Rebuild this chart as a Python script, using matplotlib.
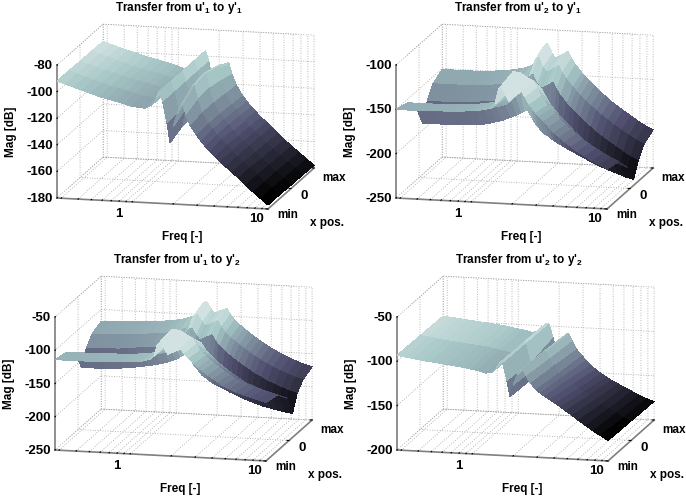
import numpy as np
import matplotlib
matplotlib.use('Agg')
import matplotlib.pyplot as plt
from mpl_toolkits.mplot3d import proj3d

plt.rcParams['font.family'] = ['Liberation Sans', 'DejaVu Sans']
plt.rcParams['font.weight'] = 'bold'
plt.rcParams['mathtext.fontset'] = 'custom'
plt.rcParams['mathtext.rm'] = 'Liberation Sans:bold'
plt.rcParams['mathtext.default'] = 'rm'

# frequency axis, shared by all panels
freq = [0.28, 0.323, 0.372, 0.43, 0.496, 0.573, 0.66, 0.762, 0.879, 0.98, 1.09, 1.256, 1.4, 1.5, 1.585,
        1.673, 1.8, 1.9, 2.0, 2.15, 2.27, 2.35, 2.48, 2.66, 2.96, 3.18, 3.42, 3.74, 4.09, 4.48, 4.89,
        5.45, 6.06, 6.87, 7.78, 8.82, 10]
freq_ticks = [0.3, 0.4, 0.5, 0.6, 0.7, 0.8, 0.9, 1, 2, 3, 4, 5, 6, 7, 8, 9, 10]

# u1 -> y1
pos_11 = [-1, -0.5, 0, 0.5, 1]
mag_11 = [
    [-92, -94, -96, -98, -100, -102, -103.5, -105, -106.5, -108, -108.5, -109, -106, -101, -95.5, -103, -119, -134, -122, -112, -106, -104, -112, -120, -127, -131, -135, -139, -143, -146.5, -150, -154, -158, -163, -168, -172.5, -177],
    [-92, -94, -96, -98, -100, -102, -103.5, -105, -106.5, -108, -108.5, -109.5, -106.5, -101.5, -96, -103, -118, -130, -117, -105, -99, -98, -108, -118, -126, -130, -134, -138, -142, -146, -150, -154, -158, -163, -168, -172.5, -177],
    [-92.5, -94.5, -96.5, -98.5, -100, -102, -103.5, -105, -106.5, -108, -109, -110, -107, -102, -96, -103, -118, -128, -114, -102, -97, -96, -107, -118, -126, -130, -134, -138.5, -143, -146.5, -150, -154.5, -159, -163.5, -168, -173, -177.5],
    [-92.5, -94.5, -96.5, -98.5, -100.5, -102.5, -104, -105.5, -107, -108.5, -109.5, -111, -108, -102.5, -96, -103, -118.5, -131, -118, -106, -100, -99, -109, -119, -127, -131, -135, -139, -143.5, -147, -150.5, -155, -159.5, -164, -168.5, -173, -177.5],
    [-93, -95, -97, -99, -100.5, -102.5, -104, -105.5, -107, -108.5, -110, -112, -109, -103, -96, -103, -119, -134, -122, -112, -106, -104, -112, -120, -128, -132, -136, -140, -144, -147.5, -151, -155.5, -160, -164.5, -169, -173.5, -178],
]

# u2 -> y1
pos_21 = [-1, -0.5, -0.1, 0.15, 0.35, 0.6, 1]
mag_21 = [
    [-150, -150, -150, -150, -149.5, -149, -149, -148.5, -148, -147, -146.5, -145, -143, -138, -122, -117, -128, -134, -131, -127, -124, -122, -128, -136, -145, -150, -155, -161, -167, -172, -177, -182, -187, -192, -197, -201, -205],
    [-154, -154, -154, -154, -153.5, -153, -153, -152.5, -152, -151, -150, -148, -145, -138, -118, -113, -113, -114, -116, -119, -121, -122, -129, -138, -148, -153, -158, -164, -170, -175, -180, -185, -190, -195, -200, -204, -208],
    [-170, -170, -170, -169.5, -169, -168.5, -168, -167, -166, -164.5, -163, -160, -155, -148, -132, -127, -130, -135, -137, -139, -140, -141, -148, -156, -165, -170, -175, -181, -187, -192, -197, -202, -207, -212, -217, -221, -224],
    [-192, -192, -192, -192, -191.5, -191, -191, -190, -188, -186, -184, -180, -177, -174, -172, -172, -180, -186, -190, -196, -198, -199, -202, -205, -209, -211.5, -214, -217, -220, -223, -226, -229, -232, -235, -238, -241, -243],
    [-172, -172, -172, -171.5, -171, -170.5, -170, -169, -168, -166.5, -165, -162, -157, -150, -138, -135, -145, -150, -150, -147, -145, -143, -150, -157, -166, -171, -176, -181.5, -187, -192, -197, -202, -207, -212.5, -218, -223, -227],
    [-158, -158, -158, -158, -158, -157.5, -157, -156, -155, -153.5, -152, -149, -144, -137, -125, -122, -132, -138, -137, -134, -132, -130, -137, -144, -153, -158, -163, -168.5, -174, -179, -184, -189, -194, -199.5, -205, -210, -214],
    [-151, -151, -151, -151, -151, -150.5, -150, -149, -148, -146.5, -145.5, -142, -138, -130, -118, -115, -126, -132, -130, -127, -125, -123, -130, -137, -146, -151, -156, -161.5, -167, -172, -177, -182, -187, -192.5, -198, -203, -207],
]

# u1 -> y2
pos_12 = [-1, -0.5, -0.1, 0.15, 0.35, 0.6, 1]
mag_12 = [
    [-114, -114, -114, -114, -113.5, -113, -113, -112.5, -112, -111.5, -111, -109, -106, -100, -84, -79, -90, -97, -95, -92, -90, -88, -94, -101, -110, -115, -120, -125.5, -131, -136, -141, -145, -149, -152.5, -156, -159, -162],
    [-118, -118, -118, -118, -117.5, -117, -117, -116.5, -116, -115, -114, -112, -108, -100, -80, -76, -76, -77, -79, -83, -85, -87, -95, -104, -113, -118.5, -124, -129.5, -135, -140, -145, -149, -153, -156.5, -160, -163, -166],
    [-134, -134, -134, -133.5, -133, -132.5, -132, -131, -130, -128.5, -127, -124, -120, -112, -96, -92, -95, -100, -102, -105, -106, -107, -114, -122, -131, -136, -141, -146.5, -152, -157, -162, -166, -170, -173.5, -177, -180, -183],
    [-161, -161, -161, -160.5, -160, -158.5, -157, -155, -153, -151, -149, -145, -141, -137, -134, -134, -142, -150, -155, -163, -166, -168, -172, -176, -180, -183, -186, -189.5, -193, -196, -199, -202, -205, -207.5, -210, -212, -214],
    [-139, -138.5, -138, -137.5, -137, -135.5, -134, -133, -132, -130.5, -129, -125, -121, -112, -102, -100, -110, -116, -116, -112, -110, -108, -116, -124, -133, -138, -143, -148.5, -154, -159, -164, -169, -174, -178.5, -183, -187, -190],
    [-125, -124.5, -124, -123.5, -123, -122, -121, -120, -119, -117.5, -116, -112, -108, -99, -89, -87, -97, -104, -102, -99, -97, -95, -103, -111, -120, -125, -130, -135.5, -141, -146, -151, -156, -161, -165.5, -170, -174, -177],
    [-118, -117.5, -117, -116.5, -116, -115, -114, -113, -112, -110.5, -109, -105, -101, -92, -82, -80, -90, -97, -95, -92, -90, -88.5, -96, -104, -113, -118, -123, -128.5, -134, -139, -144, -149, -154, -158.5, -163, -167, -170],
]

# u2 -> y2
pos_22 = [-1, 0, 1]
mag_22 = [
    [-93, -94.5, -96, -97.5, -98.5, -99.5, -100.5, -102, -103, -104.5, -105.5, -108, -107, -102, -96, -95, -115, -133, -120, -108, -103, -101.5, -108, -116, -124, -127.5, -131, -134.5, -138, -142, -146, -151, -156, -161.5, -167, -172, -177],
    [-94, -95, -96.5, -98, -99, -100, -101, -102, -103, -104.5, -106, -108, -107, -102, -97, -96, -118, -135, -122, -110, -105, -104, -112, -120, -128, -132, -136, -140.5, -145, -148.5, -152, -156.5, -161, -165.5, -170, -174.5, -178],
    [-95, -96, -97, -98, -99, -100, -101, -102, -103.5, -105, -106, -108, -107, -103, -98, -97, -112, -128, -118, -112, -108, -107, -115, -124, -132, -137, -142, -146.5, -151, -154.5, -158, -161.5, -165, -169, -173, -176.5, -179],
]

titles = ["Transfer from u'$_1$ to y'$_1$", "Transfer from u'$_2$ to y'$_1$",
          "Transfer from u'$_1$ to y'$_2$", "Transfer from u'$_2$ to y'$_2$"]
positions = [pos_11, pos_21, pos_12, pos_22]
mags = [mag_11, mag_21, mag_12, mag_22]
zlims = [(-180, -80), (-250, -100), (-250, -50), (-200, -50)]
zticks = [[-180, -160, -140, -120, -100, -80], [-250, -200, -150, -100],
          [-250, -200, -150, -100, -50], [-200, -150, -100, -50]]
# colour limits of each panel
clims = [(-178, -75), (-243, -106), (-214, -70), (-179, -75)]
# colour shift from front to back, the lit side of the surface
tilts = [0.05, 0.0, 0.0, 0.05]
# front-left floor corner of each box, in image pixels
corners = [(57, 199), (396, 199), (55, 451), (397, 451)]

W, H = 686, 502
XLIM = (np.log10(0.28), 1.0)
aspect = (217, 196, 136)
fig = plt.figure(figsize=(W / 100, H / 100), dpi=100)


def to_px(ax, x, y, z):
    px, py, _ = proj3d.proj_transform(x, y, z, ax.get_proj())
    return ax.transData.transform((px, py))


def label_at(x, y, s, **kw):
    # x, y in display pixels
    fig.text(x / W, y / H, s, va='center', **kw)


for i in range(4):
    col, row = i % 2, i // 2
    ax = fig.add_axes([0.02 + col * 0.5, 0.52 - row * 0.5, 0.46, 0.46],
                      projection='3d', proj_type='ortho')
    ax.computed_zorder = False
    ax.view_init(elev=12.4, azim=-76.4)
    ax.patch.set_alpha(0)
    zlo, zhi = zlims[i]

    X, Y = np.meshgrid(np.log10(freq), positions[i])
    Z = np.array(mags[i])
    norm = plt.Normalize(*clims[i])
    # one colour per facet, from the mean of its four corners
    Zm = (Z[:-1, :-1] + Z[1:, :-1] + Z[:-1, 1:] + Z[1:, 1:]) / 4
    Ym = (Y[:-1, :-1] + Y[1:, :-1]) / 2
    colors = plt.cm.bone(np.clip(norm(Zm) + tilts[i] * Ym, 0, 0.87))
    surf = ax.plot_surface(X, Y, Z, facecolors=colors, rstride=1, cstride=1, shade=False,
                           linewidth=0, antialiased=False, zorder=5)
    surf.set_clip_on(False)

    ax.set_xlim(*XLIM)
    ax.set_ylim(-1, 1)
    ax.set_zlim(zlo, zhi)
    ax.set_xticks(np.log10(freq_ticks))
    ax.set_yticks([-1, 0, 1])
    ax.set_zticks(zticks[i])
    ax.set_xticklabels([])
    ax.set_yticklabels([])
    ax.set_zticklabels([])

    for axis in (ax.xaxis, ax.yaxis, ax.zaxis):
        axis.set_pane_color((1, 1, 1, 0))
        axis.pane.set_edgecolor('none')
        axis.line.set_color('#808080')
        axis.line.set_linewidth(1.2)
        axis._axinfo['grid'].update(color='#a0a0a0', linewidth=0.6, linestyle=(0, (1, 2)))
        axis._axinfo['tick']['inward_factor'] = 0
        axis._axinfo['tick']['outward_factor'] = 0.12
        axis._axinfo['tick']['color'] = '#808080'
    ax.zaxis.set_ticks_position('lower')

    # dotted outline of the box walls
    x0, x1 = XLIM
    for xs, ys, zs in [((x0, x1), (1, 1), (zhi, zhi)), ((x0, x0), (-1, 1), (zhi, zhi)),
                       ((x1, x1), (1, 1), (zlo, zhi)), ((x0, x0), (1, 1), (zlo, zhi)),
                       ((x0, x1), (1, 1), (zlo, zlo)), ((x0, x0), (-1, 1), (zlo, zlo))]:
        ax.plot(xs, ys, zs, color='#a0a0a0', lw=0.6, ls=(0, (1, 2)), zorder=1)

    # scale and shift so that the box sits where it does in the picture
    zoom = 1.0
    for _ in range(3):
        ax.set_box_aspect(aspect, zoom=zoom)
        fig.canvas.draw()
        a = to_px(ax, x0, -1, zlo)
        b = to_px(ax, x1, -1, zlo)
        zoom *= 211 / (b[0] - a[0])
        cx, cy = corners[i]
        pos = ax.get_position()
        ax.set_position([pos.x0 + (cx - a[0]) / W, pos.y0 + ((H - cy) - a[1]) / H,
                         pos.width, pos.height])
    ax.set_box_aspect(aspect, zoom=zoom)
    fig.canvas.draw()

    # tick labels, placed from the projected tick positions
    for z in zticks[i]:
        p = to_px(ax, x0, -1, z)
        label_at(p[0] - 4, p[1], str(z), ha='right', fontsize=9.5)
    p = to_px(ax, 0, -1, zlo)
    label_at(p[0] - 13, p[1] - 11, '1', ha='center', fontsize=9.5)
    p = to_px(ax, 1, -1, zlo)
    label_at(p[0] - 12, p[1] - 9, '10', ha='center', fontsize=9.5)
    p = to_px(ax, x1, -1, zlo)
    label_at(p[0] + 20, p[1] - 5, 'min', ha='center', fontsize=8.5)
    p = to_px(ax, x1, 0, zlo)
    label_at(p[0] + 13, p[1] - 7, '0', ha='center', fontsize=9.5)
    p = to_px(ax, x1, 1, zlo)
    label_at(p[0] + 20, p[1] - 9, 'max', ha='center', fontsize=8.5)

    cx, cy = corners[i]
    label_at(cx + 122, H - cy + 191, titles[i], ha='center', fontsize=8.5)
    label_at(cx + 125, H - cy - 38, 'Freq [-]', ha='center', fontsize=8.5)
    label_at(cx + 270, H - cy - 24, 'x pos.', ha='center', fontsize=8.5)
    label_at(cx - 46, H - cy + 67, 'Mag [dB]', ha='center', rotation=90, fontsize=8.5)

fig.savefig('out.png', dpi=100)
